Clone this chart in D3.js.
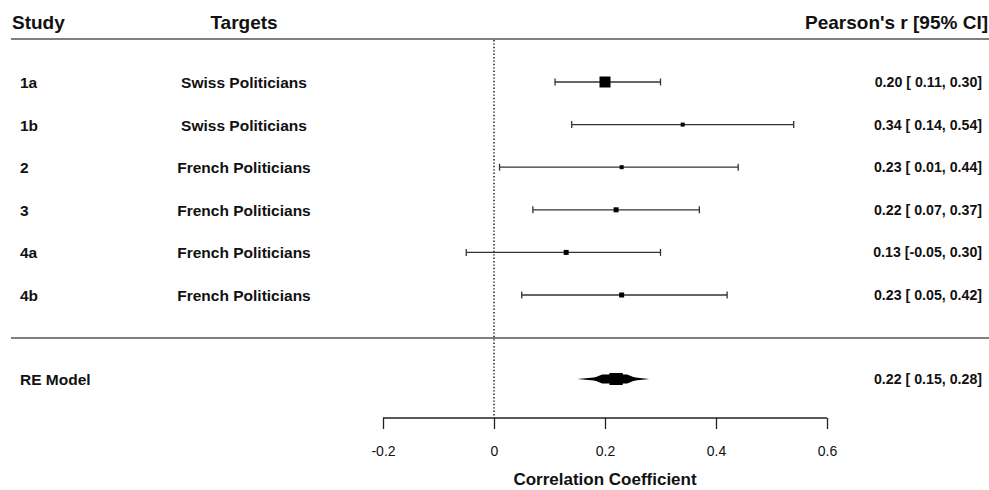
<!DOCTYPE html>
<html>
<head>
<meta charset="utf-8">
<script src="https://cdn.jsdelivr.net/npm/d3@7"></script>
<style>
  body { margin: 0; background: #fff; }
  text { font-family: "Liberation Sans", Arial, sans-serif; fill: #111; }
</style>
</head>
<body>
<div id="chart"></div>
<script>
// data
var studies = ["1a", "1b", "2", "3", "4a", "4b"];
var targets = ["Swiss Politicians", "Swiss Politicians", "French Politicians",
               "French Politicians", "French Politicians", "French Politicians"];
var estimates = [0.20, 0.34, 0.23, 0.22, 0.13, 0.23];
var lower = [0.11, 0.14, 0.01, 0.07, -0.05, 0.05];
var upper = [0.30, 0.54, 0.44, 0.37, 0.30, 0.42];
var boxSize = [11, 4, 4, 5, 5, 5];
var reModel = { label: "RE Model", est: 0.22, lo: 0.15, hi: 0.28 };
var xTicks = [-0.2, 0, 0.2, 0.4, 0.6];

var width = 989, height = 490;

var svg = d3.select("#chart")
  .append("svg")
  .attr("width", width)
  .attr("height", height);

var x = d3.scaleLinear().domain([-0.2, 0.6]).range([383, 827]);

// row positions
var y = d3.scalePoint().domain(studies).range([82, 295]);
var yRE = 379;

function fmt(v) {
  var s = v.toFixed(2);
  return v < 0 ? s : " " + s;
}

// header
svg.append("text").attr("x", 12).attr("y", 29).text("Study")
  .style("font-size", "19px").style("font-weight", "bold");
svg.append("text").attr("x", 244).attr("y", 29).attr("text-anchor", "middle").text("Targets")
  .style("font-size", "19px").style("font-weight", "bold");
svg.append("text").attr("x", 988).attr("y", 29).attr("text-anchor", "end").text("Pearson's r [95% CI]")
  .style("font-size", "19px").style("font-weight", "bold");

svg.append("line").attr("x1", 11).attr("x2", 989).attr("y1", 39).attr("y2", 39)
  .attr("stroke", "#555").attr("stroke-width", 1.6);
svg.append("line").attr("x1", 11).attr("x2", 989).attr("y1", 338).attr("y2", 338)
  .attr("stroke", "#555").attr("stroke-width", 1.6);

// zero reference line
svg.append("line").attr("x1", x(0)).attr("x2", x(0)).attr("y1", 40).attr("y2", 418)
  .attr("stroke", "#111").attr("stroke-width", 1.4).attr("stroke-dasharray", "1.4,2");

var rows = svg.append("g").selectAll("g")
  .data(studies)
  .enter()
  .append("g");

rows.append("text")
  .attr("x", 20)
  .attr("y", function (d) { return y(d) + 6; })
  .text(function (d) { return d; })
  .style("font-size", "15.5px").style("font-weight", "bold");

rows.append("text")
  .attr("x", 244)
  .attr("y", function (d) { return y(d) + 6; })
  .attr("text-anchor", "middle")
  .text(function (d, i) { return targets[i]; })
  .style("font-size", "15.5px").style("font-weight", "bold");

rows.append("text")
  .attr("x", 982)
  .attr("y", function (d) { return y(d) + 5; })
  .attr("text-anchor", "end")
  .style("white-space", "pre")
  .attr("xml:space", "preserve")
  .text(function (d, i) {
    return estimates[i].toFixed(2) + " [" + fmt(lower[i]) + ", " + upper[i].toFixed(2) + "]";
  })
  .style("font-size", "14.2px").style("font-weight", "bold");

// CI lines
rows.append("line")
  .attr("x1", function (d, i) { return x(lower[i]); })
  .attr("x2", function (d, i) { return x(upper[i]); })
  .attr("y1", function (d) { return y(d); })
  .attr("y2", function (d) { return y(d); })
  .attr("stroke", "#333").attr("stroke-width", 1.3);

rows.append("line")
  .attr("x1", function (d, i) { return x(lower[i]); })
  .attr("x2", function (d, i) { return x(lower[i]); })
  .attr("y1", function (d) { return y(d) - 3.5; })
  .attr("y2", function (d) { return y(d) + 3.5; })
  .attr("stroke", "#333").attr("stroke-width", 1.3);

rows.append("line")
  .attr("x1", function (d, i) { return x(upper[i]); })
  .attr("x2", function (d, i) { return x(upper[i]); })
  .attr("y1", function (d) { return y(d) - 3.5; })
  .attr("y2", function (d) { return y(d) + 3.5; })
  .attr("stroke", "#333").attr("stroke-width", 1.3);

rows.append("rect")
  .attr("x", function (d, i) { return x(estimates[i]) - boxSize[i] / 2; })
  .attr("y", function (d, i) { return y(d) - boxSize[i] / 2; })
  .attr("width", function (d, i) { return boxSize[i]; })
  .attr("height", function (d, i) { return boxSize[i]; })
  .attr("fill", "#000");

// RE model row
svg.append("text").attr("x", 20).attr("y", yRE + 6).text(reModel.label)
  .style("font-size", "15.5px").style("font-weight", "bold");
svg.append("text").attr("x", 982).attr("y", yRE + 5).attr("text-anchor", "end")
  .attr("xml:space", "preserve").style("white-space", "pre")
  .text(reModel.est.toFixed(2) + " [" + fmt(reModel.lo) + ", " + reModel.hi.toFixed(2) + "]")
  .style("font-size", "14.2px").style("font-weight", "bold");

// summary diamond (drawn in steps, like the blurred original)
svg.append("polygon")
  .attr("points", [
    [x(reModel.lo), yRE], [x(reModel.est), yRE - 3.5],
    [x(reModel.hi), yRE], [x(reModel.est), yRE + 3.5]
  ].join(" "))
  .attr("fill", "#000");
svg.append("polygon")
  .attr("points", [
    [x(reModel.lo + 0.025), yRE], [x(reModel.lo + 0.045), yRE - 4.5],
    [x(reModel.hi - 0.04), yRE - 4.5], [x(reModel.hi - 0.02), yRE],
    [x(reModel.hi - 0.04), yRE + 4.5], [x(reModel.lo + 0.045), yRE + 4.5]
  ].join(" "))
  .attr("fill", "#000");
svg.append("rect")
  .attr("x", x(reModel.est - 0.012)).attr("y", yRE - 6)
  .attr("width", x(reModel.est + 0.012) - x(reModel.est - 0.012)).attr("height", 12)
  .attr("fill", "#000");

// x axis
var xAxis = d3.axisBottom(x).tickValues(xTicks).tickSize(11)
  .tickFormat(function (d) { return d === 0 ? "0" : d.toFixed(1); });

var gx = svg.append("g")
  .attr("transform", "translate(0,418)")
  .call(xAxis);
gx.select(".domain").attr("stroke", "#222").attr("stroke-width", 1.3)
  .attr("d", "M" + x(-0.2) + ",0H" + x(0.6));
gx.selectAll(".tick line").attr("stroke", "#222").attr("stroke-width", 1.3);
gx.selectAll(".tick text")
  .attr("y", 28)
  .style("font-size", "14px")
  .style("font-family", "'Liberation Sans', Arial, sans-serif")
  .attr("fill", "#222");

svg.append("text")
  .attr("x", x(0.2)).attr("y", 485)
  .attr("text-anchor", "middle")
  .text("Correlation Coefficient")
  .style("font-size", "17px").style("font-weight", "bold");
</script>
</body>
</html>
